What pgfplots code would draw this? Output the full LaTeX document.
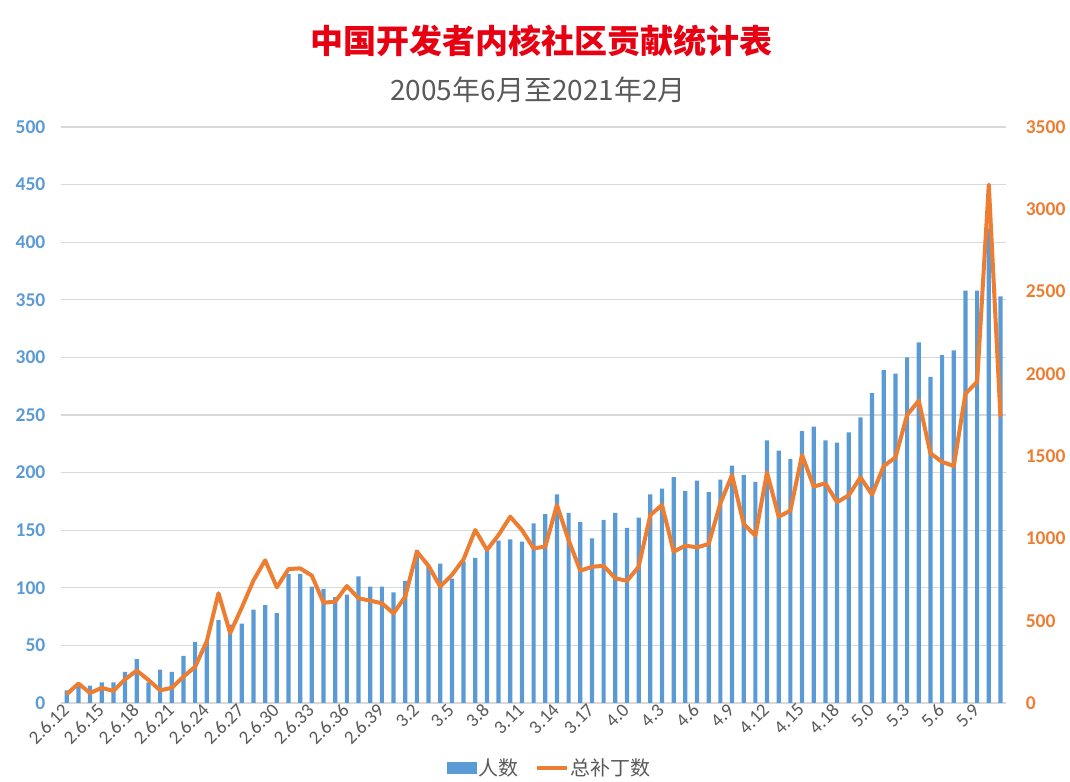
\documentclass[border=0pt]{standalone}
\usepackage{pgfplots}
\pgfplotsset{compat=1.18}
\usepackage{fontspec}
\setmainfont{Carlito}
\newfontfamily\cjk{Noto Sans CJK SC}
\definecolor{barblue}{HTML}{5B9BD5}
\definecolor{lineorange}{HTML}{ED7D31}
\definecolor{txtgray}{HTML}{595959}
\definecolor{titlered}{HTML}{E60012}
\definecolor{gridgray}{HTML}{D9D9D9}

\pgfplotstableread{
x people patches
0 11 53
1 15 118
2 15 61
3 18 92
4 18 73
5 27 144
6 38 197
7 18 140
8 29 77
9 27 92
10 41 160
11 53 220
12 53 375
13 72 667
14 68 425
15 69 580
16 81 745
17 85 867
18 78 703
19 112 814
20 112 818
21 101 774
22 99 609
23 92 616
24 94 711
25 110 636
26 101 622
27 101 606
28 96 545
29 106 646
30 133 920
31 119 833
32 121 707
33 108 778
34 123 873
35 126 1051
36 132 930
37 141 1021
38 142 1132
39 140 1051
40 156 940
41 164 950
42 181 1203
43 165 990
44 157 804
45 143 828
46 159 833
47 165 758
48 152 742
49 161 828
50 181 1142
51 186 1203
52 196 920
53 184 956
54 193 946
55 183 966
56 194 1213
57 206 1385
58 198 1088
59 192 1017
60 228 1400
61 219 1132
62 212 1169
63 236 1507
64 240 1315
65 228 1335
66 226 1220
67 235 1262
68 248 1371
69 269 1266
70 289 1440
71 286 1492
72 300 1750
73 313 1837
74 283 1517
75 302 1465
76 306 1440
77 358 1879
78 358 1952
79 412 3150
80 353 1737
}\datatable

\begin{document}
\begin{tikzpicture}[x=1pt,y=1pt]
\path (0,0) rectangle (1070,778);
\node[font=\cjk\bfseries\fontsize{33}{33}\selectfont, text=titlered] at (541,737) {中国开发者内核社区贡献统计表};
\node[font=\cjk\fontsize{28}{28}\selectfont, text=txtgray] at (538,688) {2005年6月至2021年2月};

\begin{axis}[
  at={(60.9pt,75pt)}, anchor=south west,
  width=945.4pt, height=576pt, scale only axis,
  xmin=-0.5, xmax=80.5, ymin=0, ymax=500,
  ytick={0,50,...,500},
  xtick={0,3,...,78},
  xticklabels={2.6.12,2.6.15,2.6.18,2.6.21,2.6.24,2.6.27,2.6.30,2.6.33,2.6.36,2.6.39,3.2,3.5,3.8,3.11,3.14,3.17,4.0,4.3,4.6,4.9,4.12,4.15,4.18,5.0,5.3,5.6,5.9},
  xticklabel style={rotate=45, anchor=east, font=\fontsize{19}{19}\selectfont, text=txtgray, yshift=-2pt},
  yticklabel style={font=\bfseries\fontsize{19.5}{19.5}\selectfont, text=barblue, xshift=-12pt},
  /pgf/number format/assume math mode=true,
  /pgf/number format/1000 sep={},
  axis line style={draw=none},
  major tick length=0pt,
  tick style={draw=none},
  ymajorgrids,
  major grid style={draw=gridgray, line width=1.2pt},
  legend style={at={(0.517,-0.113)}, anchor=center, draw=none, fill=none,
    legend columns=2, font=\cjk\fontsize{20}{20}\selectfont, text=txtgray,
    /tikz/every even column/.append style={column sep=14pt}},
]
\addplot[ybar, bar width=4.2pt, fill=barblue, draw=none,
  legend image code/.code={\fill[barblue] (0pt,-6pt) rectangle (30pt,6pt);}]
  table[x=x, y=people] {\datatable};
\addlegendentry{人数}
\addlegendimage{lineorange, line width=3.5pt,
  legend image code/.code={\draw[lineorange, line width=3.5pt] (0pt,0pt) -- (30pt,0pt);}}
\addlegendentry{总补丁数}
\end{axis}

\begin{axis}[
  at={(60.9pt,75pt)}, anchor=south west,
  width=945.4pt, height=576pt, scale only axis,
  xmin=-0.5, xmax=80.5, ymin=0, ymax=3500,
  ytick={0,500,...,3500},
  yticklabel pos=right,
  hide x axis,
  yticklabel style={font=\bfseries\fontsize{19.5}{19.5}\selectfont, text=lineorange, xshift=16pt},
  /pgf/number format/assume math mode=true,
  /pgf/number format/1000 sep={},
  axis line style={draw=none},
  major tick length=0pt,
  tick style={draw=none},
]
\addplot[lineorange, line width=4pt, line join=round, mark=none]
  table[x=x, y=patches] {\datatable};
\end{axis}
\end{tikzpicture}
\end{document}
